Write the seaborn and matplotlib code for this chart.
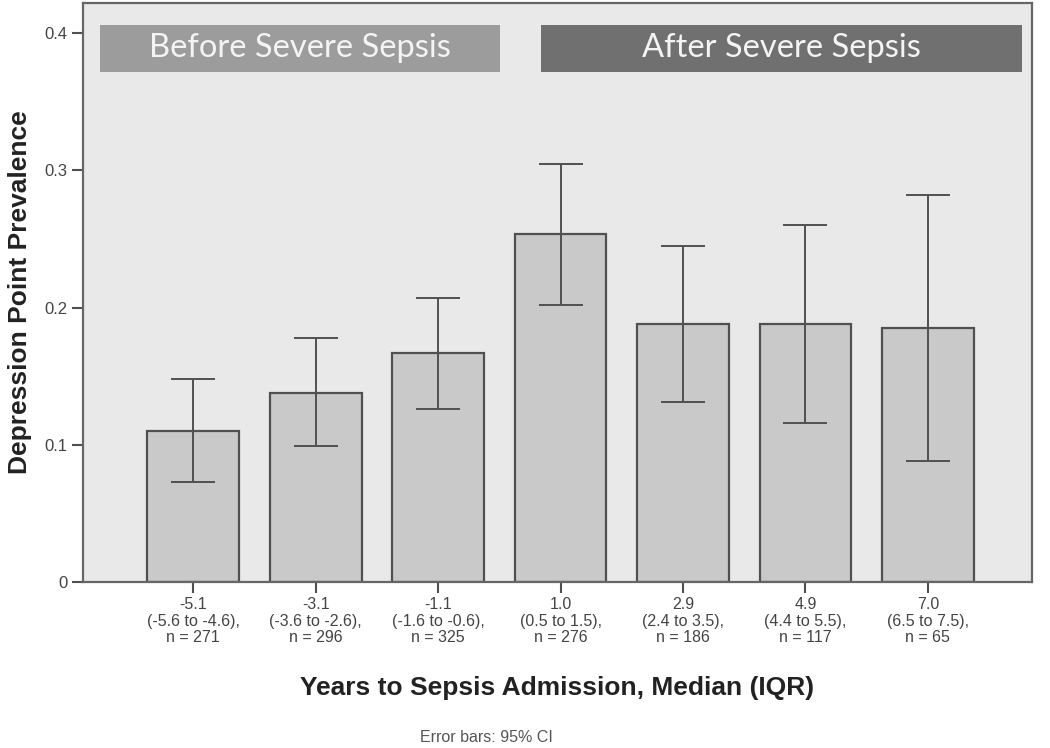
import matplotlib
matplotlib.use("Agg")
import matplotlib.pyplot as plt
import seaborn as sns
import pandas as pd
from matplotlib.patches import Rectangle

# Dati
labels = ["-5.1\n(-5.6 to -4.6),\nn = 271",
          "-3.1\n(-3.6 to -2.6),\nn = 296",
          "-1.1\n(-1.6 to -0.6),\nn = 325",
          "1.0\n(0.5 to 1.5),\nn = 276",
          "2.9\n(2.4 to 3.5),\nn = 186",
          "4.9\n(4.4 to 5.5),\nn = 117",
          "7.0\n(6.5 to 7.5),\nn = 65"]
prevalence = [0.110, 0.138, 0.167, 0.254, 0.188, 0.188, 0.185]
ci_low = [0.073, 0.099, 0.126, 0.202, 0.131, 0.116, 0.088]
ci_high = [0.148, 0.178, 0.207, 0.305, 0.245, 0.260, 0.282]
yticks = [0, 0.1, 0.2, 0.3, 0.4]
ytick_labels = ["0", "0.1", "0.2", "0.3", "0.4"]

df = pd.DataFrame({"gruppo": labels, "prev": prevalence})

sns.set_style("white")
plt.rcParams["font.family"] = ["Liberation Sans", "DejaVu Sans"]

fig = plt.figure(figsize=(10.5, 7.48), dpi=100)
ax = fig.add_axes([83 / 1050, 1 - 582 / 748, 949 / 1050, 579 / 748])
ax.set_facecolor("#e9e9e9")

sns.barplot(data=df, x="gruppo", y="prev", color="#c9c9c9", saturation=1,
            edgecolor="#505050", linewidth=1.6, width=0.75, errorbar=None, ax=ax)

# --- barre di errore 95% CI ---
xs = range(len(labels))
err = [[p - lo for p, lo in zip(prevalence, ci_low)],
       [hi - p for p, hi in zip(prevalence, ci_high)]]
ax.errorbar(xs, prevalence, yerr=err, fmt="none", ecolor="#505050",
            elinewidth=1.4, capsize=16, capthick=1.4)

ax.set_xlim(-0.9, 6.85)
ax.set_ylim(0, 0.422)
ax.set_yticks(yticks)
ax.set_yticklabels(ytick_labels)
ax.tick_params(axis="both", direction="out", length=8, width=1.5,
               color="#505050", labelcolor="#444444", labelsize=12, pad=3,
               left=True, bottom=True)
ax.tick_params(axis="x", labelsize=11.5)
for t in ax.get_xticklabels():
    t.set_linespacing(1.12)
for s in ax.spines.values():
    s.set_color("#666666")
    s.set_linewidth(1.6)

ax.set_xlabel("Years to Sepsis Admission, Median (IQR)", fontsize=19,
              fontweight="bold", color="#222222", labelpad=22)
ax.set_ylabel("Depression Point Prevalence", fontsize=19,
              fontweight="bold", color="#222222", labelpad=9)

# --- riquadri prima/dopo ---
for x0, x1, col, txt in [(0.018, 0.439, "#9c9c9c", "Before Severe Sepsis"),
                         (0.483, 0.989, "#707070", "After Severe Sepsis")]:
    ax.add_patch(Rectangle((x0, 0.881), x1 - x0, 0.081, transform=ax.transAxes,
                           facecolor=col, edgecolor="none", zorder=5))
    ax.text((x0 + x1) / 2, 0.9215, txt, transform=ax.transAxes, ha="center",
            va="center", fontsize=23.5, color="#f4f4f4", zorder=6,
            family=["Lato", "DejaVu Sans"])

fig.text(486 / 1050, 1 - 737 / 748, "Error bars: 95% CI", ha="center",
         va="center", fontsize=11.5, color="#555555")

fig.savefig("out.png", dpi=100)
